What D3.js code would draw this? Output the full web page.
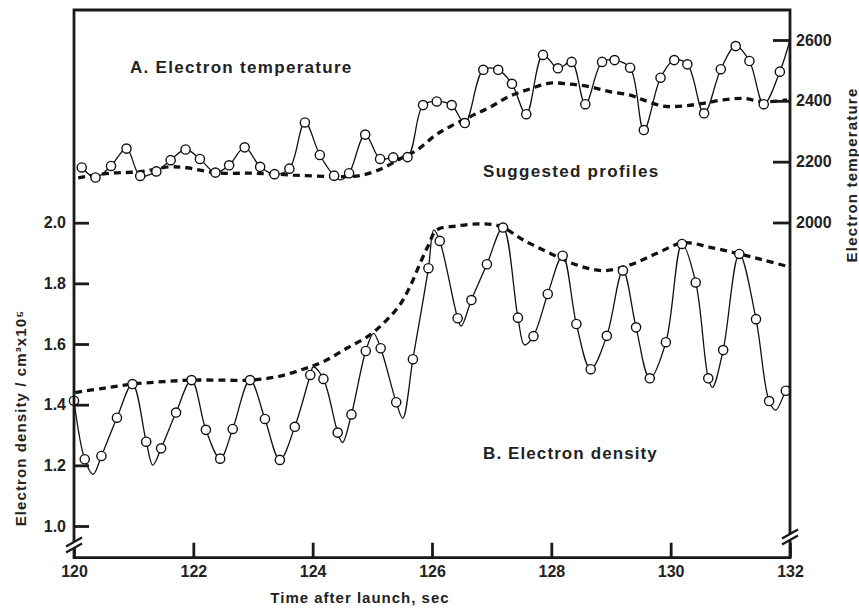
<!DOCTYPE html>
<html>
<head>
<meta charset="utf-8">
<script src="https://cdn.jsdelivr.net/npm/d3@7"></script>
<style>
body { margin: 0; background: #fff; }
text { font-family: "Liberation Sans", Arial, sans-serif; font-weight: bold; fill: #222; }
</style>
</head>
<body>
<svg id="chart" width="859" height="610"></svg>
<script>
// A. electron temperature - measured points
var tempTime = [120.13,120.36,120.62,120.88,121.11,121.38,121.62,121.87,122.11,122.37,122.60,122.86,123.12,123.36,123.61,123.87,124.12,124.36,124.61,124.88,125.13,125.35,125.59,125.85,126.08,126.33,126.55,126.86,127.11,127.34,127.58,127.86,128.11,128.34,128.57,128.85,129.06,129.32,129.55,129.83,130.06,130.28,130.56,130.84,131.09,131.32,131.56,131.83]
var tempValue = [2181,2148,2186,2243,2153,2168,2205,2240,2209,2164,2188,2247,2183,2159,2177,2329,2222,2154,2162,2289,2209,2214,2215,2386,2398,2386,2327,2502,2502,2456,2356,2551,2507,2528,2389,2528,2534,2509,2304,2476,2534,2520,2359,2504,2580,2531,2389,2496]
// extra vertices of the solid trace (no marker)
var tempKnotTime = [124.46, 132.0]
var tempKnotValue = [2140, 2600]
// suggested temperature profile (dashed)
var tempProfTime = [120.07,120.60,121.11,121.61,121.89,122.40,123.00,123.67,124.34,124.79,125.18,125.46,125.75,126.05,126.30,126.64,126.97,127.31,127.64,127.98,128.31,128.65,128.98,129.32,129.54,129.87,130.21,130.55,130.88,131.22,131.55,131.95]
var tempProfValue = [2147,2162,2167,2183,2180,2163,2162,2156,2151,2154,2179,2209,2238,2286,2315,2348,2379,2416,2439,2458,2455,2446,2430,2419,2403,2383,2383,2392,2403,2408,2397,2403]

// B. electron density - measured points
var densTime = [120.00,120.18,120.46,120.72,120.98,121.21,121.46,121.71,121.97,122.21,122.45,122.66,122.95,123.20,123.45,123.70,123.96,124.18,124.42,124.65,124.89,125.14,125.40,125.68,125.94,126.13,126.43,126.66,126.92,127.19,127.44,127.70,127.94,128.19,128.42,128.66,128.93,129.20,129.42,129.65,129.92,130.19,130.42,130.63,130.88,131.15,131.43,131.65,131.93]
var densValue = [1.413,1.220,1.231,1.357,1.468,1.278,1.256,1.374,1.481,1.317,1.222,1.320,1.481,1.353,1.218,1.327,1.498,1.485,1.308,1.368,1.577,1.586,1.408,1.550,1.850,1.940,1.685,1.745,1.863,1.984,1.687,1.626,1.765,1.891,1.666,1.517,1.627,1.842,1.655,1.487,1.606,1.930,1.803,1.487,1.580,1.897,1.682,1.412,1.446]
var densKnotTime = [120.32,121.32,124.01,124.50,125.02,125.51,126.03,126.49,127.55,130.70,131.76,132.0]
var densKnotValue = [1.170,1.201,1.525,1.275,1.635,1.355,1.976,1.659,1.597,1.457,1.382,1.465]
// suggested density profile (dashed)
var densProfTime = [120.02,120.49,120.99,121.50,121.97,122.45,122.95,123.40,123.84,124.18,124.57,124.96,125.24,125.46,125.63,125.80,125.94,126.08,126.41,126.80,127.14,127.53,127.98,128.42,128.87,129.32,129.77,130.21,130.66,131.11,131.55,131.94]
var densProfValue = [1.440,1.454,1.468,1.476,1.481,1.481,1.481,1.492,1.517,1.542,1.586,1.630,1.679,1.729,1.789,1.866,1.926,1.976,1.989,1.996,1.989,1.943,1.899,1.861,1.842,1.861,1.899,1.934,1.919,1.899,1.877,1.857]

var xTicks = [120,122,124,126,128,130,132]
var densTicks = [1.0,1.2,1.4,1.6,1.8,2.0]
var tempTicks = [2000,2200,2400,2600]

var frame = {left: 74, right: 790, top: 10, bottom: 557.7}

var x = d3.scaleLinear().domain([120, 132]).range([frame.left, frame.right])
var yDens = d3.scaleLinear().domain([1.0, 2.0]).range([526, 222.7])
var yTemp = d3.scaleLinear().domain([2000, 2600]).range([222.5, 40])

var svg = d3.select("#chart")

function zip(t, v) { return t.map((d, i) => ({t: d, v: v[i]})) }
function trace(t, v, kt, kv) {
	return zip(t, v).concat(zip(kt, kv)).sort((a, b) => a.t - b.t)
}

svg.append("defs").append("clipPath").attr("id", "plot")
	.append("rect").attr("x", frame.left).attr("y", frame.top)
	.attr("width", frame.right - frame.left).attr("height", frame.bottom - frame.top)

var plot = svg.append("g").attr("clip-path", "url(#plot)")

var lineT = d3.line().curve(d3.curveCatmullRom.alpha(0.5)).x(d => x(d.t)).y(d => yTemp(d.v))
var lineD = d3.line().curve(d3.curveCatmullRom.alpha(0.5)).x(d => x(d.t)).y(d => yDens(d.v))

plot.append("path")
	.attr("fill", "none").attr("stroke", "#111").attr("stroke-width", 1.3)
	.attr("d", lineT(trace(tempTime, tempValue, tempKnotTime, tempKnotValue)))

plot.append("path")
	.attr("fill", "none").attr("stroke", "#111").attr("stroke-width", 1.3)
	.attr("d", lineD(trace(densTime, densValue, densKnotTime, densKnotValue)))

plot.append("path")
	.attr("fill", "none").attr("stroke", "#111").attr("stroke-width", 3.3)
	.attr("stroke-dasharray", "7,5")
	.attr("d", lineT(zip(tempProfTime, tempProfValue)))

plot.append("path")
	.attr("fill", "none").attr("stroke", "#111").attr("stroke-width", 3.3)
	.attr("stroke-dasharray", "7,5")
	.attr("d", lineD(zip(densProfTime, densProfValue)))

plot.selectAll(".tc").data(zip(tempTime, tempValue)).join("circle")
	.attr("cx", d => x(d.t)).attr("cy", d => yTemp(d.v)).attr("r", 4.6)
	.attr("fill", "#fff").attr("stroke", "#111").attr("stroke-width", 1.4)

svg.selectAll(".dc").data(zip(densTime, densValue)).join("circle")
	.attr("cx", d => x(d.t)).attr("cy", d => yDens(d.v)).attr("r", 4.6)
	.attr("fill", "#fff").attr("stroke", "#111").attr("stroke-width", 1.4)

// frame
svg.append("path")
	.attr("fill", "none").attr("stroke", "#1a1a1a").attr("stroke-width", 2.8)
	.attr("d", `M${frame.left},${frame.bottom}V${frame.top}H${frame.right}V${frame.bottom}Z`)

function styleAxis(g) {
	g.select(".domain").remove()
	g.selectAll(".tick line").attr("stroke", "#1a1a1a").attr("stroke-width", 2.8)
	g.selectAll(".tick text").attr("font-size", 16).attr("fill", "#222")
		.attr("font-family", null)
}

svg.append("g")
	.attr("transform", `translate(0,${frame.bottom})`)
	.call(d3.axisBottom(x).tickValues(xTicks).tickFormat(d3.format("d"))
		.tickSizeInner(-15).tickSizeOuter(0).tickPadding(8))
	.call(styleAxis)

svg.append("g")
	.attr("transform", `translate(${frame.left},0)`)
	.call(d3.axisLeft(yDens).tickValues(densTicks).tickFormat(d3.format(".1f"))
		.tickSizeInner(-15).tickSizeOuter(0).tickPadding(8))
	.call(styleAxis)

svg.append("g")
	.attr("transform", `translate(${frame.right},0)`)
	.call(d3.axisRight(yTemp).tickValues(tempTicks).tickFormat(d3.format("d"))
		.tickSizeInner(-17).tickSizeOuter(0).tickPadding(6))
	.call(styleAxis)

// axis break marks
function axisBreak(cx, cy) {
	var g = svg.append("g").attr("transform", `translate(${cx},${cy})`)
	g.append("path").attr("fill", "#fff").attr("d", "M-8,1.5L8,-7.5L8,-1.5L-8,7.5Z")
	g.append("path").attr("fill", "none").attr("stroke", "#1a1a1a").attr("stroke-width", 2.4)
		.attr("d", "M-8,1.5L8,-7.5M-8,7.5L8,-1.5")
}
axisBreak(frame.left, 545)
axisBreak(frame.right, 537)

// labels
svg.append("text").attr("x", 130).attr("y", 73).attr("font-size", 17).attr("letter-spacing", 1.3)
	.text("A. Electron temperature")
svg.append("text").attr("x", 483).attr("y", 177).attr("font-size", 17).attr("letter-spacing", 1.3)
	.text("Suggested profiles")
svg.append("text").attr("x", 483).attr("y", 459).attr("font-size", 17).attr("letter-spacing", 1.1)
	.text("B. Electron density")

svg.append("text").attr("x", 360).attr("y", 603).attr("text-anchor", "middle")
	.attr("font-size", 15).attr("letter-spacing", 1)
	.text("Time after launch, sec")

svg.append("text").attr("transform", "translate(26,418) rotate(-90)").attr("text-anchor", "middle")
	.attr("font-size", 15).attr("letter-spacing", 1.1)
	.text("Electron density / cm³x10⁵")

svg.append("text").attr("transform", "translate(857,175) rotate(-90)").attr("text-anchor", "middle")
	.attr("font-size", 15).attr("letter-spacing", 1.2)
	.text("Electron temperature")
</script>
</body>
</html>
